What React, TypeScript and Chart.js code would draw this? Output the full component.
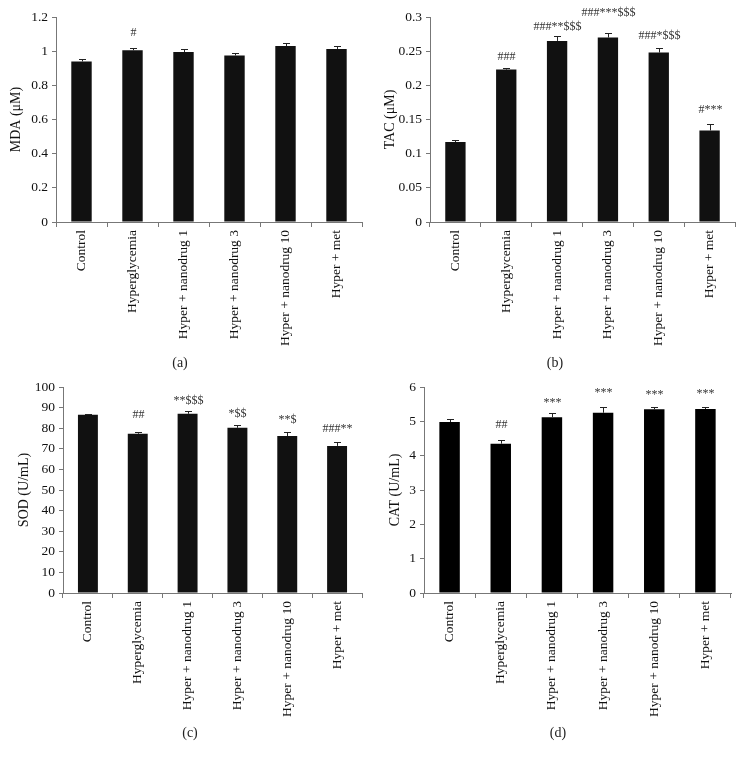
import React, { useEffect, useRef } from "react";
import { Chart, registerables } from "chart.js";

Chart.register(...registerables);

// ---------- data ----------
const categories = [
  "Control",
  "Hyperglycemia",
  "Hyper + nanodrug 1",
  "Hyper + nanodrug 3",
  "Hyper + nanodrug 10",
  "Hyper + met",
];

// (a) MDA (μM)
const mdaValues = [0.94, 1.005, 0.995, 0.975, 1.03, 1.013];
const mdaErrors = [0.015, 0.012, 0.018, 0.015, 0.015, 0.015];
const mdaMarks = ["", "#", "", "", "", ""];
const mdaMarkAt = [0, 1.107, 0, 0, 0, 0];

// (b) TAC (μM)
const tacValues = [0.117, 0.223, 0.265, 0.27, 0.248, 0.134];
const tacErrors = [0.003, 0.002, 0.007, 0.006, 0.006, 0.009];
const tacMarks = ["", "###", "###**$$$", "###***$$$", "###*$$$", "#***"];
const tacMarkAt = [0, 0.2415, 0.285, 0.3055, 0.272, 0.164];

// (c) SOD (U/mL)
const sodValues = [86.5, 77.3, 87.0, 80.2, 76.2, 71.4];
const sodErrors = [0.6, 1.0, 1.5, 1.5, 2.0, 1.7];
const sodMarks = ["", "##", "**$$$", "*$$", "**$", "###**"];
const sodMarkAt = [0, 86.3, 93.3, 87.2, 84.0, 79.6];

// (d) CAT (U/mL)
const catValues = [4.98, 4.35, 5.12, 5.25, 5.35, 5.36];
const catErrors = [0.08, 0.1, 0.13, 0.18, 0.07, 0.07];
const catMarks = ["", "##", "***", "***", "***", "***"];
const catMarkAt = [0, 4.91, 5.55, 5.82, 5.77, 5.8];

// ---------- helpers ----------
const SERIF = "'Liberation Serif', 'DejaVu Serif', serif";

const errorBarPlugin = {
  id: "errorBars",
  afterDatasetsDraw(chart: any, _args: any, opts: any) {
    const { ctx } = chart;
    const meta = chart.getDatasetMeta(0);
    const y = chart.scales.y;
    const data = chart.data.datasets[0].data as number[];
    ctx.save();
    meta.data.forEach((bar: any, i: number) => {
      const v = data[i];
      const e = opts.errors[i];
      const base = y.getPixelForValue(v);
      const top = Math.round(y.getPixelForValue(v + e)) + 0.5;
      const cx = Math.round(bar.x) + 0.5;
      ctx.strokeStyle = "#222";
      ctx.lineWidth = 1;
      ctx.beginPath();
      ctx.moveTo(cx, base);
      ctx.lineTo(cx, top);
      ctx.moveTo(cx - 3.5, top);
      ctx.lineTo(cx + 3.5, top);
      ctx.stroke();
      const m = opts.marks[i];
      if (m) {
        ctx.fillStyle = "#333";
        ctx.font = `12px ${SERIF}`;
        ctx.textAlign = "center";
        ctx.textBaseline = "middle";
        ctx.fillText(m, cx, y.getPixelForValue(opts.markAt[i]));
      }
    });
    ctx.restore();
  },
};

type PanelProps = {
  left: number;
  top: number;
  width: number;
  height: number;
  axisLeft: number;
  axisRight: number;
  plotTop: number;
  plotBottom: number;
  titlePad: number;
  values: number[];
  errors: number[];
  marks: string[];
  markAt: number[];
  yMax: number;
  yStep: number;
  yTitle: string;
  barColor: string;
};

function Panel(p: PanelProps) {
  const ref = useRef<HTMLCanvasElement | null>(null);
  useEffect(() => {
    if (!ref.current) return;
    const tickFont = { family: SERIF, size: 13.5 };
    const chart = new Chart(ref.current, {
      type: "bar",
      data: {
        labels: categories,
        datasets: [
          {
            data: p.values,
            backgroundColor: p.barColor,
            borderWidth: 0,
            barPercentage: 0.4,
            categoryPercentage: 1,
          },
        ],
      },
      options: {
        responsive: false,
        animation: false,
        layout: {
          padding: { top: p.plotTop, right: p.width - p.axisRight, left: 0, bottom: 0 },
        },
        plugins: {
          legend: { display: false },
          tooltip: { enabled: false },
          errorBars: { errors: p.errors, marks: p.marks, markAt: p.markAt },
        } as any,
        scales: {
          x: {
            type: "category",
            offset: true,
            grid: {
              offset: true,
              drawOnChartArea: false,
              drawTicks: true,
              tickLength: 5,
              color: "#777",
            },
            border: { color: "#777" },
            ticks: {
              minRotation: 90,
              maxRotation: 90,
              autoSkip: false,
              font: tickFont,
              color: "#111",
              padding: 3,
            },
            afterFit: (s: any) => {
              s.height = p.height - p.plotBottom;
            },
          },
          y: {
            min: 0,
            max: p.yMax,
            ticks: {
              stepSize: p.yStep,
              font: tickFont,
              color: "#111",
              padding: 4,
              callback: (v: any) => String(+Number(v).toFixed(4)),
            },
            grid: { drawOnChartArea: false, tickLength: 4, color: "#777" },
            border: { color: "#777" },
            title: {
              display: true,
              text: p.yTitle,
              font: { family: SERIF, size: 14 },
              color: "#111",
              padding: { top: p.titlePad, bottom: 0 },
            },
            afterFit: (s: any) => {
              s.width = p.axisLeft;
            },
          },
        },
      },
      plugins: [errorBarPlugin],
    });
    return () => chart.destroy();
  }, []);
  return (
    <canvas
      ref={ref}
      width={p.width}
      height={p.height}
      style={{ position: "absolute", left: p.left, top: p.top, width: p.width, height: p.height }}
    />
  );
}

function Caption({ x, y, text }: { x: number; y: number; text: string }) {
  return (
    <div
      style={{
        position: "absolute",
        left: x - 30,
        top: y - 10,
        width: 60,
        height: 20,
        lineHeight: "20px",
        textAlign: "center",
        fontFamily: SERIF,
        fontSize: 14,
        color: "#222",
      }}
    >
      {text}
    </div>
  );
}

export default function App() {
  return (
    <div
      style={{
        position: "absolute",
        left: 0,
        top: 0,
        width: 746,
        height: 760,
        background: "#fff",
        overflow: "hidden",
      }}
    >
      <Panel
        left={0}
        top={0}
        width={373}
        height={355}
        axisLeft={56}
        axisRight={362}
        plotTop={17}
        plotBottom={222}
        titlePad={7.6}
        values={mdaValues}
        errors={mdaErrors}
        marks={mdaMarks}
        markAt={mdaMarkAt}
        yMax={1.2}
        yStep={0.2}
        yTitle="MDA (μM)"
        barColor="#111111"
      />
      <Panel
        left={373}
        top={0}
        width={373}
        height={355}
        axisLeft={57}
        axisRight={362}
        plotTop={17}
        plotBottom={222}
        titlePad={8.6}
        values={tacValues}
        errors={tacErrors}
        marks={tacMarks}
        markAt={tacMarkAt}
        yMax={0.3}
        yStep={0.05}
        yTitle="TAC (μM)"
        barColor="#111111"
      />
      <Panel
        left={0}
        top={370}
        width={373}
        height={355}
        axisLeft={63}
        axisRight={362}
        plotTop={17}
        plotBottom={223}
        titlePad={15.6}
        values={sodValues}
        errors={sodErrors}
        marks={sodMarks}
        markAt={sodMarkAt}
        yMax={100}
        yStep={10}
        yTitle="SOD (U/mL)"
        barColor="#111111"
      />
      <Panel
        left={373}
        top={370}
        width={373}
        height={355}
        axisLeft={51}
        axisRight={358}
        plotTop={17}
        plotBottom={223}
        titlePad={13.6}
        values={catValues}
        errors={catErrors}
        marks={catMarks}
        markAt={catMarkAt}
        yMax={6}
        yStep={1}
        yTitle="CAT (U/mL)"
        barColor="#000000"
      />
      <Caption x={180} y={363} text="(a)" />
      <Caption x={555} y={363} text="(b)" />
      <Caption x={190} y={733} text="(c)" />
      <Caption x={558} y={733} text="(d)" />
    </div>
  );
}
